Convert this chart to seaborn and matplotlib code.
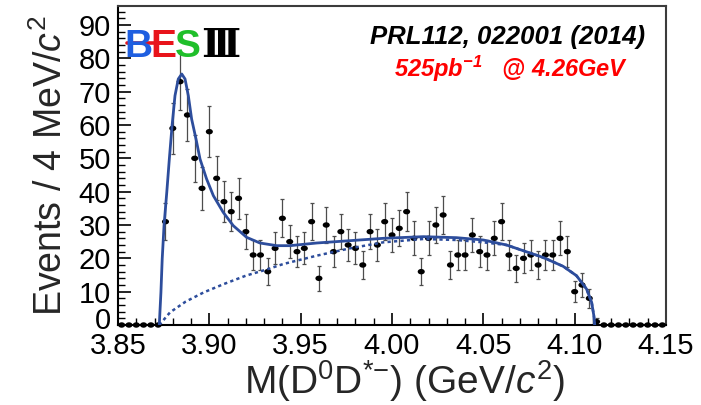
import numpy as np
import pandas as pd
import matplotlib
matplotlib.use("Agg")
import matplotlib.pyplot as plt
from matplotlib.path import Path
from matplotlib.transforms import Affine2D, ScaledTranslation
from matplotlib.ticker import MultipleLocator, FormatStrFormatter
from matplotlib.lines import Line2D
import seaborn as sns

# ---------------------------------------------------------------------------
# D0 D*- invariant mass spectrum, 4 MeV/c^2 bins starting at 3.852 GeV/c^2
# ---------------------------------------------------------------------------
BIN_FIRST = 3.852
BIN_WIDTH = 0.004

events = [0, 0, 0, 0, 0, 0,
          31, 59, 73, 63, 50, 41, 58, 44, 37, 34, 38, 28, 21, 21,
          16, 23, 32, 25, 22, 23, 31, 14, 30, 22, 28, 24, 23, 18,
          28, 24, 31, 27, 29, 34, 26, 16, 26, 30, 33, 18, 21, 21,
          27, 22, 21, 26, 31, 21, 17, 20, 21, 18, 21, 21, 26, 22,
          10, 12, 8, 1,
          0, 0, 0, 0, 0, 0, 0, 0, 0]

# Total fit (signal + background), sampled along the curve
fit_mass = [3.8726, 3.8735, 3.8742, 3.8752, 3.8767, 3.8781, 3.8796, 3.8812,
            3.8830, 3.8849, 3.8867, 3.8885, 3.8903, 3.8927, 3.8949, 3.8985,
            3.9022, 3.9076, 3.9131, 3.9204, 3.9277, 3.9369, 3.9441, 3.9588,
            3.9770, 3.9952, 4.0171, 4.0353, 4.0500, 4.0627, 4.0718, 4.0810,
            4.0847, 4.0937, 4.1010, 4.1065, 4.1093, 4.1105, 4.1110]
fit_events = [0.0, 9.8, 19.8, 29.8, 39.8, 49.8, 59.8, 68.8,
              73.8, 75.3, 73.8, 68.8, 61.8, 55.8, 49.8, 43.8,
              38.8, 33.8, 29.8, 26.3, 24.6, 23.8, 23.8, 24.6,
              25.3, 26.0, 26.5, 26.2, 25.5, 24.0, 22.3, 20.6,
              19.8, 17.6, 14.8, 10.8, 6.8, 2.8, 0.0]

# Background component
bkg_mass = [3.8726, 3.8785, 3.8870, 3.8970, 3.9080, 3.9200, 3.9305, 3.9405,
            3.9588, 3.9770, 3.9952, 4.0171, 4.0353, 4.0500, 4.0627, 4.0718,
            4.0810, 4.0847, 4.0937, 4.1010, 4.1065, 4.1093, 4.1105, 4.1110]
bkg_events = [0.0, 3.8, 7.0, 9.8, 12.3, 14.8, 16.5, 18.3,
              20.8, 23.0, 24.8, 25.8, 25.5, 24.8, 24.0, 22.3,
              20.6, 19.8, 17.6, 14.8, 10.8, 6.8, 2.8, 0.0]

x_ticks = [3.85, 3.90, 3.95, 4.00, 4.05, 4.10, 4.15]
y_ticks = [0, 10, 20, 30, 40, 50, 60, 70, 80, 90]

data = pd.DataFrame({
    "mass": np.round(BIN_FIRST + BIN_WIDTH * np.arange(len(events)), 3),
    "events": events,
})
data["err"] = np.sqrt(data["events"])

fit = pd.DataFrame({"mass": fit_mass, "events": fit_events})
bkg = pd.DataFrame({"mass": bkg_mass, "events": bkg_events})

# ---------------------------------------------------------------------------
sns.set_theme(style="ticks")
plt.rcParams["font.family"] = ["Liberation Sans", "DejaVu Sans"]
plt.rcParams["mathtext.fontset"] = "custom"
plt.rcParams["mathtext.rm"] = "Liberation Sans"
plt.rcParams["mathtext.it"] = "Liberation Sans:italic"
plt.rcParams["mathtext.bf"] = "Liberation Sans:bold"
plt.rcParams["mathtext.bfit"] = "Liberation Sans:bold:italic"

W, H = 701, 405
fig = plt.figure(figsize=(W / 100, H / 100), dpi=100)
fig.patch.set_facecolor("white")
ax = fig.add_axes([118 / W, 80 / H, 548 / W, 319 / H])
ax.set_facecolor("white")

line_blue = "#2d4d9c"

# slightly flattened dot marker
ellipse = Path.unit_circle().transformed(Affine2D().scale(1.3, 1.0))

ax.errorbar(data["mass"], data["events"], yerr=data["err"], fmt="none",
            ecolor="#4d4d4d", elinewidth=0.9, capsize=1.4, capthick=0.9,
            zorder=2)
sns.scatterplot(data=data, x="mass", y="events", marker=ellipse, s=26,
                color="black", edgecolor="none", linewidth=0, ax=ax,
                zorder=3, clip_on=False, legend=False)
sns.lineplot(data=fit, x="mass", y="events", sort=False, estimator=None,
             color=line_blue, linewidth=2.0, ax=ax, zorder=4)
sns.lineplot(data=bkg, x="mass", y="events", sort=False, estimator=None,
             color=line_blue, linewidth=1.8, linestyle=(0, (1.3, 1.3)),
             ax=ax, zorder=4)

ax.set_xlim(3.85, 4.15)
ax.set_ylim(0, 95.7)
ax.set_xticks(x_ticks)
ax.set_yticks(y_ticks)
ax.xaxis.set_minor_locator(MultipleLocator(0.01))
ax.yaxis.set_minor_locator(MultipleLocator(2))
ax.xaxis.set_major_formatter(FormatStrFormatter("%.2f"))
ax.tick_params(which="both", direction="in", top=False, right=False,
               colors="black", labelsize=21)
ax.tick_params(which="major", length=9, width=1.2, pad=5)
ax.tick_params(which="minor", length=5, width=1.0)

# lift the "0" label a little so it clears the first mass label
zero_label = ax.get_yticklabels()[0]
zero_label.set_transform(zero_label.get_transform()
                         + ScaledTranslation(0, 5 / 72, fig.dpi_scale_trans))

for side in ("left", "bottom"):
    ax.spines[side].set_color("black")
    ax.spines[side].set_linewidth(1.5)
for side in ("top", "right"):
    ax.spines[side].set_color("#3c3c3c")
    ax.spines[side].set_linewidth(1.5)

ax.set_xlabel(r"M(D$^{0}$D$^{{*}{-}}$) (GeV/$c^{2}$)", fontsize=28)
ax.xaxis.set_label_coords((405 - 118) / 548, -(358 - 325) / 319)
ax.xaxis.label.set_verticalalignment("top")
ax.set_ylabel(r"Events / 4 MeV/$c^{2}$", fontsize=27, labelpad=6)

# Publication reference and data-set tag
fig.text(508 / W, 1 - 44 / H, "PRL112, 022001 (2014)", ha="center",
         va="baseline", fontsize=18.5, fontweight="bold", style="italic",
         color="black")
fig.text(511 / W, 1 - 77 / H, r"525pb$^{\mathbfit{-1}}$   @ 4.26GeV",
         ha="center", va="baseline", fontsize=17, fontweight="bold",
         style="italic", color="#ff0000")

# BESIII logo
logo_base = 1 - 57 / H
for ch, xc, col in (("B", 138, "#1f5fe0"), ("E", 163, "#e8141b"),
                    ("S", 187.5, "#1fbf2a")):
    fig.text(xc / W, logo_base, ch, ha="center", va="baseline",
             fontsize=28, fontweight="bold", color=col)
fig.add_artist(Line2D([127 / W, 169 / W], [1 - 43 / H, 1 - 43 / H],
                      transform=fig.transFigure, color="#e8141b", lw=2.6))
fig.text(221 / W, logo_base, "\u2162", ha="center", va="baseline",
         fontsize=28, fontweight="bold", color="black",
         family=["DejaVu Serif", "DejaVu Sans"])

fig.savefig("out.png", dpi=100, facecolor="white")
